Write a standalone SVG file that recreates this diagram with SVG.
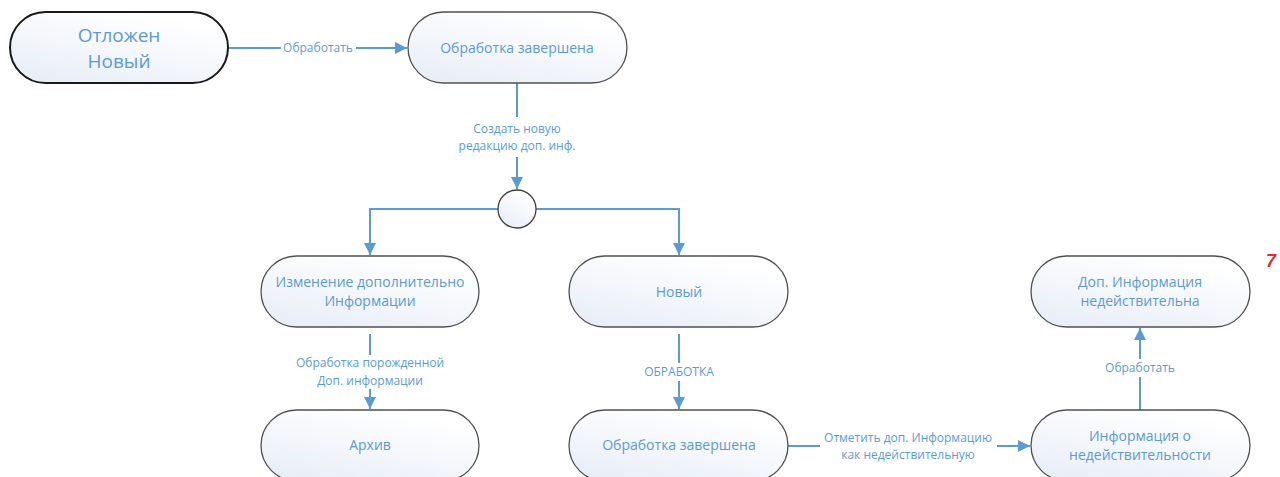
<svg xmlns="http://www.w3.org/2000/svg" width="1280" height="477" viewBox="0 0 1280 477">
<style>
.node{fill:url(#g);stroke:#505050;stroke-width:1.3}
.nt{font-family:"Open Sans","Noto Sans",sans-serif;font-size:14px;fill:#5B9BD5;text-anchor:middle}
.lt{font-family:"Open Sans","Noto Sans",sans-serif;font-size:12px;fill:#5B9BD5;text-anchor:middle}
.c{fill:none;stroke:#5B9BD5;stroke-width:2}
</style>
<defs>
<linearGradient id="g" x1="0" y1="1" x2="0.6" y2="0">
<stop offset="0" stop-color="#E6ECF6"/>
<stop offset="1" stop-color="#FFFFFF"/>
</linearGradient>
<marker id="a" viewBox="0 0 10 10" refX="10" refY="5" markerWidth="6" markerHeight="6" orient="auto" markerUnits="strokeWidth">
<path d="M0,0 L10,5 L0,10 z" fill="#5B9BD5"/>
</marker>
</defs>
<rect width="1280" height="477" fill="#fff"/>
<g id="connectors">
<path class="c" d="M228,48 H281 M356,48 H407" marker-end="url(#a)"/>
<path class="c" d="M517,83 V117 M517,157 V189" marker-end="url(#a)"/>
<path class="c" d="M498,209 H370 V255" marker-end="url(#a)"/>
<path class="c" d="M536,209 H679 V255" marker-end="url(#a)"/>
<path class="c" d="M370,334 V355 M370,389 V409" marker-end="url(#a)"/>
<path class="c" d="M679,334 V363 M679,381 V409" marker-end="url(#a)"/>
<path class="c" d="M788,446 H820 M997,446 H1030" marker-end="url(#a)"/>
<path class="c" d="M1140,410 V377 M1140,359 V328" marker-end="url(#a)"/>
<text class="lt" x="318" y="52">Обработать</text>
<text class="lt" x="517" y="133">Создать новую</text>
<text class="lt" x="517" y="150">редакцию доп. инф.</text>
<text class="lt" x="370" y="367">Обработка порожденной</text>
<text class="lt" x="370" y="385">Доп. информации</text>
<text class="lt" x="679" y="376">ОБРАБОТКА</text>
<text class="lt" x="908" y="442">Отметить доп. Информацию</text>
<text class="lt" x="908" y="459">как недействительную</text>
<text class="lt" x="1140" y="372">Обработать</text>
</g>
<g id="n1"><rect x="10" y="12" width="218" height="71" rx="35.5" class="node" style="stroke:#1a1a1a;stroke-width:2"/>
<text class="nt" style="font-size:19px" x="119" y="42">Отложен</text>
<text class="nt" style="font-size:19px" x="119" y="68">Новый</text></g>
<g id="n2"><rect x="408" y="12" width="219" height="71" rx="35.5" class="node"/>
<text class="nt" x="517" y="53">Обработка завершена</text></g>
<g id="j"><circle cx="517" cy="209" r="19" fill="url(#g)" stroke="#404040" stroke-width="1.3"/></g>
<g id="n3"><rect x="261" y="256" width="218" height="71" rx="35.5" class="node"/>
<text class="nt" x="370" y="287">Изменение дополнительно</text>
<text class="nt" x="370" y="306">Информации</text></g>
<g id="n4"><rect x="569" y="256" width="219" height="71" rx="35.5" class="node"/>
<text class="nt" x="679" y="297">Новый</text></g>
<g id="n5"><rect x="1031" y="256" width="219" height="71" rx="35.5" class="node"/>
<text class="nt" x="1140" y="287">Доп. Информация</text>
<text class="nt" x="1140" y="306">недействительна</text></g>
<g id="n6"><rect x="261" y="410" width="218" height="71" rx="35.5" class="node"/>
<text class="nt" x="370" y="450">Архив</text></g>
<g id="n7"><rect x="569" y="410" width="219" height="71" rx="35.5" class="node"/>
<text class="nt" x="679" y="450">Обработка завершена</text></g>
<g id="n8"><rect x="1031" y="410" width="219" height="71" rx="35.5" class="node"/>
<text class="nt" x="1140" y="441">Информация о</text>
<text class="nt" x="1140" y="460">недействительности</text></g>
<text x="1266" y="267" font-family="Liberation Sans,sans-serif" font-size="18" font-weight="bold" font-style="italic" fill="#E8262B">7</text>
</svg>
